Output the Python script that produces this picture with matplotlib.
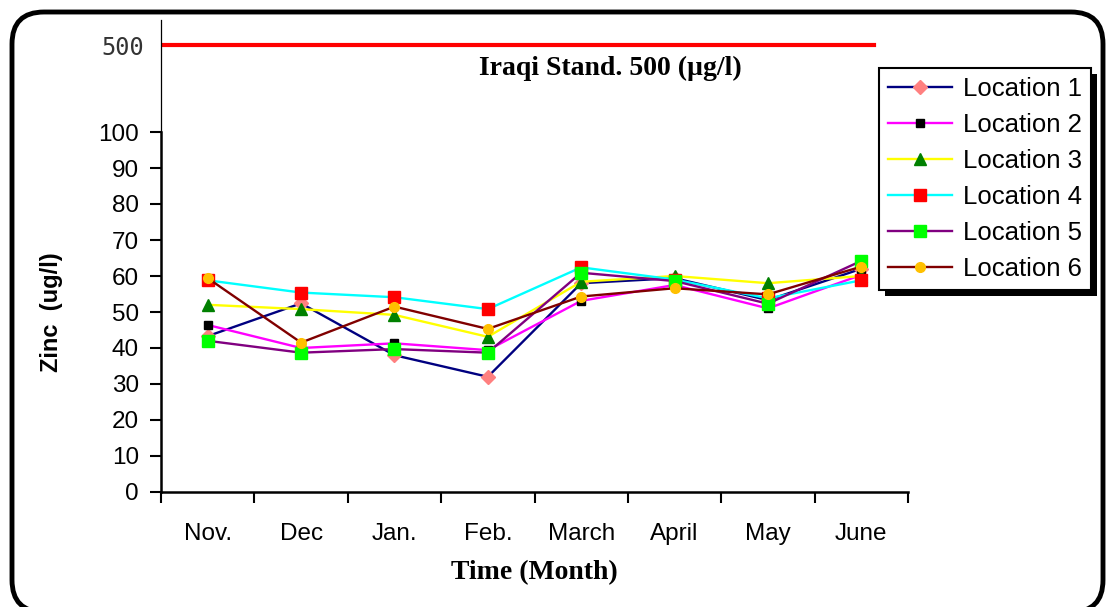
import numpy as np
import matplotlib.pyplot as plt
from matplotlib.patches import FancyBboxPatch, Rectangle


#######################################################################################
# DATA
#######################################################################################
months = ['Nov.', 'Dec', 'Jan.', 'Feb.', 'March', 'April', 'May', 'June']
loc1 = [43.3, 52.4, 38.0, 32.0, 58.0, 59.4, 53.3, 62.0]
loc2 = [46.4, 40.0, 41.3, 39.4, 53.1, 57.5, 51.0, 60.3]
loc3 = [52.0, 50.8, 49.2, 43.1, 58.4, 60.0, 58.0, 60.0]
loc4 = [58.8, 55.4, 54.1, 50.8, 62.4, 59.0, 53.8, 58.8]
loc5 = [42.0, 38.7, 39.7, 38.7, 60.9, 58.6, 52.3, 64.2]
loc6 = [59.4, 41.5, 51.5, 45.3, 54.3, 56.6, 54.9, 62.6]
labels = ['Location 1', 'Location 2', 'Location 3',
          'Location 4', 'Location 5', 'Location 6']
std_limit = 500
yticks = [0, 10, 20, 30, 40, 50, 60, 70, 80, 90, 100]

# line colour, marker, marker colour, marker size
styles = [('#000080', 'D', '#FF8080', 7),
          ('#FF00FF', 's', '#000000', 6),
          ('#FFFF00', '^', '#008000', 9),
          ('#00FFFF', 's', '#FF0000', 9),
          ('#800080', 's', '#00FF00', 9),
          ('#800000', 'o', '#FFC000', 7)]

W, H = 1109, 607
fig = plt.figure(figsize=(W/100, H/100), dpi=100)

def px(x0, y0, x1, y1):
    # pixel box (image coords) -> figure fraction rect
    return [x0/W, 1 - y1/H, (x1 - x0)/W, (y1 - y0)/H]

sans = 'Liberation Sans'
serif = 'Liberation Serif'

#
# Main axes, 0..100
ax = fig.add_axes(px(161, 132, 908, 492))
x = np.arange(len(months))
series = [loc1, loc2, loc3, loc4, loc5, loc6]
for vals, lab, (lc, mk, mc, ms) in zip(series, labels, styles):
    ax.plot(x, vals, color=lc, lw=1.7, marker=mk, markersize=ms,
            markerfacecolor=mc, markeredgecolor=mc, label=lab)

ax.set_xlim(-0.5, len(months) - 0.5)
ax.set_ylim(0, 100)
ax.set_yticks(yticks)
ax.set_yticklabels([str(v) for v in yticks], fontsize=17.5, family=sans)
ax.set_xticks(np.arange(len(months) + 1) - 0.5)
ax.set_xticklabels([])
ax.set_xticks(x, minor=True)
ax.set_xticklabels(months, minor=True, fontsize=17.5, family=sans)
ax.tick_params(axis='x', which='minor', length=0, pad=22)
ax.tick_params(axis='both', which='major', length=8, width=1.5, direction='out')
ax.tick_params(axis='y', pad=8)
for s in ['top', 'right']:
    ax.spines[s].set_visible(False)
for s in ['left', 'bottom']:
    ax.spines[s].set_linewidth(1.8)

ax.set_ylabel('Zinc  (ug/l)', fontsize=17, fontweight='bold', family=sans, labelpad=25)
ax.set_xlabel('Time (Month)', fontsize=20, fontweight='bold', family=serif, labelpad=11)

#
# Top broken part holding the 500 standard
axt = fig.add_axes(px(161, 20, 908, 132))
axt.set_xlim(-0.5, len(months) - 0.5)
axt.set_ylim(0, std_limit*112/87)
axt.axhline(std_limit, xmin=0.003, xmax=0.955, color='#FF0000', lw=3)
axt.set_yticks([std_limit])
axt.set_yticklabels([str(std_limit)], fontsize=17, family='DejaVu Sans Mono', color='#333333')
axt.tick_params(axis='y', length=0, pad=12)
axt.set_xticks([])
for s in ['top', 'right', 'bottom']:
    axt.spines[s].set_visible(False)
axt.spines['left'].set_linewidth(0.9)
axt.patch.set_visible(False)
axt.text(0.602, 0.57, 'Iraqi Stand. 500 (\u00b5g/l)', transform=axt.transAxes,
         ha='center', va='center', fontsize=20, fontweight='bold', family=serif)

#
# Legend with a hard black shadow
h, l = ax.get_legend_handles_labels()
leg = fig.legend(h, l, loc='upper left', bbox_to_anchor=(879/W, 1 - 68/H),
                 borderaxespad=0, fancybox=False, edgecolor='black',
                 framealpha=1, prop={'family': sans, 'size': 18.5},
                 handlelength=2.5, handletextpad=0.4, labelspacing=0.47,
                 borderpad=0.35)
leg.get_frame().set_linewidth(1.5)
leg.set_zorder(5)
fig.canvas.draw()
bb = leg.get_window_extent()
shadow = Rectangle((bb.x0 + 6, bb.y0 - 6), bb.width, bb.height, transform=None,
                   facecolor='black', edgecolor='none', zorder=4)
fig.add_artist(shadow)

#
# Rounded outer border
border = FancyBboxPatch((12/100, (H - 612)/100), (1103 - 12)/100, (612 - 12)/100,
                        boxstyle='round,pad=0,rounding_size=0.32',
                        transform=fig.dpi_scale_trans, facecolor='none',
                        edgecolor='black', lw=3.5, zorder=10)
fig.add_artist(border)

fig.savefig('out.png', dpi=100)
